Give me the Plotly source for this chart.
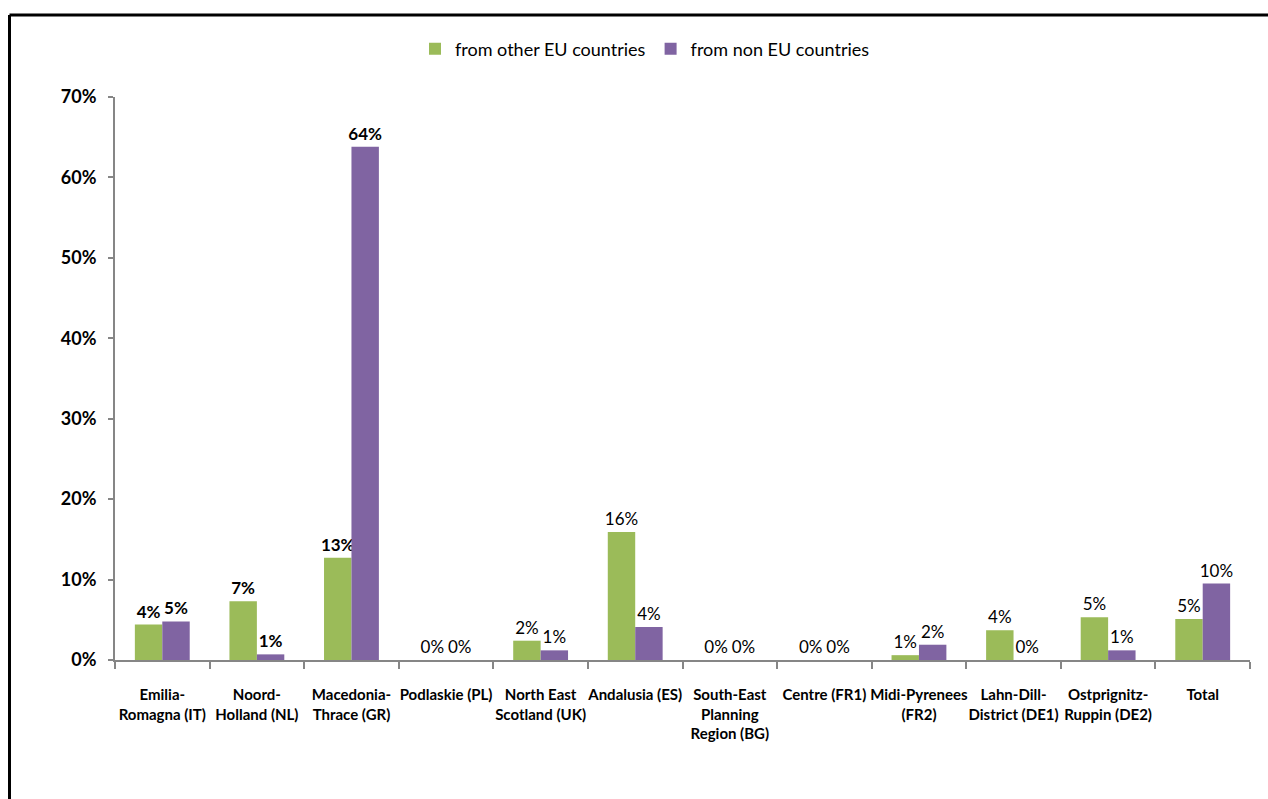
import plotly.graph_objects as go

# Regions (tick labels wrap onto several lines)
regions = [
    "Emilia-<br>Romagna (IT)",
    "Noord-<br>Holland (NL)",
    "Macedonia-<br>Thrace (GR)",
    "Podlaskie (PL)",
    "North East<br>Scotland (UK)",
    "Andalusia (ES)",
    "South-East<br>Planning<br>Region (BG)",
    "Centre (FR1)",
    "Midi-Pyrenees<br>(FR2)",
    "Lahn-Dill-<br>District (DE1)",
    "Ostprignitz-<br>Ruppin (DE2)",
    "Total",
]

# Share of respondents born abroad, by origin
other_eu = [0.044, 0.073, 0.127, 0.0, 0.024, 0.159, 0.0, 0.0, 0.006, 0.037, 0.053, 0.051]
non_eu = [0.048, 0.007, 0.638, 0.0, 0.012, 0.041, 0.0, 0.0, 0.019, 0.0, 0.012, 0.095]

y_ticks = [0, 0.1, 0.2, 0.3, 0.4, 0.5, 0.6, 0.7]
y_tick_text = ["0%", "10%", "20%", "30%", "40%", "50%", "60%", "70%"]

GREEN = "#9BBB59"
PURPLE = "#8064A2"
AXIS = "#868686"
FONT = "Lato, 'Open Sans', sans-serif"

W, H = 1268, 799
L, R, T, B = 115, 18, 97, 139

bold_idx = {0, 1, 2}
weights = ["bold" if i in bold_idx else "normal" for i in range(len(regions))]

fig = go.Figure()
fig.add_trace(go.Bar(
    name="from other EU countries", x=regions, y=other_eu,
    marker=dict(color=GREEN, line=dict(width=0)),
    texttemplate="%{y:.0%}", textposition="outside", constraintext="none",
    textfont=dict(family=FONT, size=17, color="#000000", weight=weights),
    cliponaxis=False,
))
fig.add_trace(go.Bar(
    name="from non EU countries", x=regions, y=non_eu,
    marker=dict(color=PURPLE, line=dict(width=0)),
    texttemplate="%{y:.0%}", textposition="outside", constraintext="none",
    textfont=dict(family=FONT, size=17, color="#000000", weight=weights),
    cliponaxis=False,
))

# Outer frame: top and left edges
pw, ph = W - L - R, H - T - B
def px_x(p):
    return (p - L) / pw
def px_y(p):
    return (H - B - p) / ph

frame_x, frame_y = 9.5, 15
fig.add_shape(type="line", xref="paper", yref="paper",
              x0=px_x(frame_x), x1=px_x(W + 5), y0=px_y(frame_y), y1=px_y(frame_y),
              line=dict(color="#000000", width=3))
fig.add_shape(type="line", xref="paper", yref="paper",
              x0=px_x(frame_x), x1=px_x(frame_x), y0=px_y(frame_y), y1=px_y(H + 5),
              line=dict(color="#000000", width=3))

fig.update_layout(
    width=W, height=H,
    margin=dict(l=L, r=R, t=T, b=B, autoexpand=False),
    paper_bgcolor="#FFFFFF", plot_bgcolor="#FFFFFF",
    barmode="group", bargap=0.42, bargroupgap=0.0,
    showlegend=True,
    legend=dict(
        orientation="h", x=px_x(645), xanchor="center",
        y=px_y(49), yanchor="middle",
        font=dict(family=FONT, size=18, color="#000000"),
        itemwidth=30, traceorder="normal",
        bgcolor="rgba(0,0,0,0)",
    ),
    font=dict(family=FONT, color="#000000"),
)

fig.update_xaxes(
    type="category",
    showline=True, linecolor=AXIS, linewidth=2,
    ticks="outside", tickson="boundaries", ticklen=7, tickcolor=AXIS, tickwidth=2,
    tickangle=0,
    tickfont=dict(family=FONT, size=15, color="#000000", weight="bold"),
    ticklabelstandoff=20,
    showgrid=False, zeroline=False,
)
fig.update_yaxes(
    range=[0, 0.7],
    tickvals=y_ticks, ticktext=y_tick_text,
    showline=True, linecolor=AXIS, linewidth=2,
    ticks="outside", ticklen=5, tickcolor=AXIS, tickwidth=2,
    tickfont=dict(family=FONT, size=18, color="#000000", weight="bold"),
    ticklabelstandoff=8,
    showgrid=False, zeroline=False,
)

fig.write_html("out.html")
